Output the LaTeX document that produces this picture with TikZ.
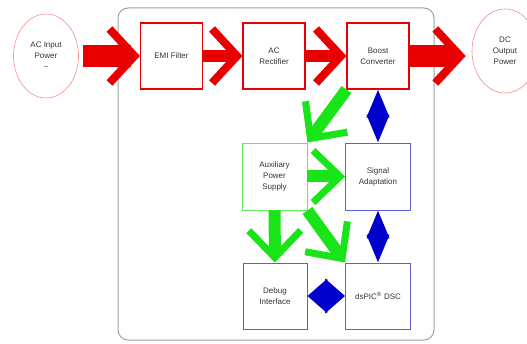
\documentclass[tikz,border=0pt]{standalone}
\usepackage{fontspec}
\setmainfont{Liberation Sans}
\usepackage{tikz}
\usepackage{xcolor}
\usetikzlibrary{shapes.geometric,arrows.meta}
\definecolor{power}{RGB}{232,0,0}
\definecolor{auxgreen}{RGB}{24,228,24}
\definecolor{signalblue}{RGB}{0,0,205}
\definecolor{boxblue}{RGB}{96,96,214}

\begin{document}
\begin{tikzpicture}[x=1pt,y=-1pt,
    every node/.style={font=\fontsize{8}{11}\selectfont,text=black!80,align=center,inner sep=0pt},
    redbox/.style={draw=power,line width=1.1pt,minimum width=62pt,minimum height=66pt},
    bluebox/.style={draw=boxblue,line width=0.9pt,minimum width=65pt,minimum height=66pt},
    greenbox/.style={draw=auxgreen!70,line width=0.9pt,minimum width=65pt,minimum height=67pt},
    terminal/.style={draw=power!45,ellipse,line width=0.6pt,minimum width=65pt,minimum height=84pt},
    powerarrow/.style={power,line width=12pt,-{Straight Barb[length=25pt,width=54pt,line width=8pt]}},
    auxarrow/.style={auxgreen,line width=12pt,-{Straight Barb[length=27pt,width=52pt,line width=7pt]}},
    dataarrow/.style 2 args={signalblue,line width=4pt,{Triangle[length=#1,width=#2]}-{Triangle[length=#1,width=#2]}}]
    \useasboundingbox (0,0) rectangle (527,344);
    \draw[gray!75,line width=1pt,rounded corners=10pt] (118,8) rectangle (434,340);
    \node[terminal] (acinput) at (46,56) {AC Input\\Power\\\textasciitilde};
    \node[redbox] (emi) at (171.5,56) {EMI Filter};
    \node[redbox] (rectifier) at (274,56) {AC\\Rectifier};
    \node[redbox] (boost) at (378,56) {Boost\\Converter};
    \node[terminal,minimum width=66pt] (dcoutput) at (505,51) {DC\\Output\\Power};
    \node[greenbox] (auxiliary) at (274.5,176.5) {Auxiliary\\Power\\Supply};
    \node[bluebox,minimum height=67pt] (signal) at (378,176.5) {Signal\\Adaptation};
    \node[bluebox,minimum width=64pt] (debug) at (275,296) {Debug\\Interface};
    \node[bluebox] (dspic) at (378,296) {dsPIC\textsuperscript{\textregistered} DSC};
    \draw[powerarrow,line width=22pt,shorten <=4pt] (acinput.east) -- (emi.west);
    \draw[powerarrow] (emi) -- (rectifier);
    \draw[powerarrow] (rectifier) -- (boost);
    \draw[powerarrow,line width=22pt,shorten >=6pt] (boost.east) -- (boost.east -| dcoutput.west);
    \draw[auxarrow] (boost.south west) -- (auxiliary.north east);
    \draw[auxarrow] (auxiliary) -- (signal);
    \draw[auxarrow] (auxiliary) -- (debug);
    \draw[auxarrow] (auxiliary.south east) -- (dspic.north west);
    \draw[dataarrow={28pt}{22pt}] (boost) -- (signal);
    \draw[dataarrow={28pt}{22pt}] (signal) -- (dspic);
    \draw[dataarrow={20pt}{34pt}] (debug) -- (dspic);
\end{tikzpicture}
\end{document}
